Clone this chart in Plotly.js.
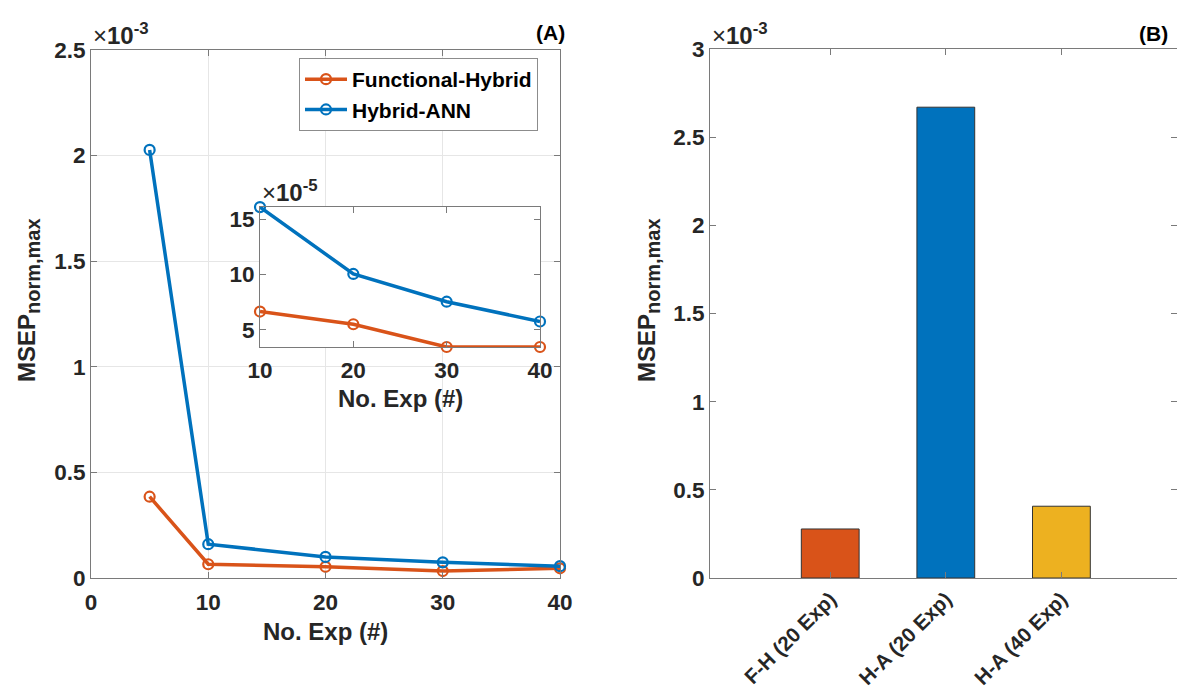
<!DOCTYPE html>
<html>
<head>
<meta charset="utf-8">
<script src="https://cdn.plot.ly/plotly-3.0.1.min.js"></script>
<style>html,body{margin:0;padding:0;background:#fff;}#chart{width:1177px;height:693px;}</style>
</head>
<body>
<div id="chart"></div>
<script>
// ---- data ----
const mainX = [5, 10, 20, 30, 40];
const fhMain = [0.385e-3, 0.065e-3, 0.053e-3, 0.033e-3, 0.046e-3];
const haMain = [2.027e-3, 0.160e-3, 0.100e-3, 0.074e-3, 0.056e-3];
const insetX = [10, 20, 30, 40];
const fhInset = [6.65e-5, 5.5e-5, 3.44e-5, 3.44e-5];
const haInset = [16.1e-5, 10.05e-5, 7.54e-5, 5.75e-5];
const barCats = ['F-H (20 Exp)', 'H-A (20 Exp)', 'H-A (40 Exp)'];
const barVals = [0.278e-3, 2.67e-3, 0.407e-3];
const mainXTicks = [0, 10, 20, 30, 40];
const mainYTickVals = [0, 0.5e-3, 1e-3, 1.5e-3, 2e-3, 2.5e-3];
const mainYTickText = ['0', '0.5', '1', '1.5', '2', '2.5'];
const barYTickVals = [0, 0.5e-3, 1e-3, 1.5e-3, 2e-3, 2.5e-3, 3e-3];
const barYTickText = ['0', '0.5', '1', '1.5', '2', '2.5', '3'];
const insetXTicks = [10, 20, 30, 40];
const insetYTickVals = [5e-5, 10e-5, 15e-5];
const insetYTickText = ['5', '10', '15'];

// ---- style ----
const W = 1177, H = 693;
const px = x => x / W;
const py = y => 1 - y / H;
const ORANGE = '#D95319', BLUE = '#0072BD', YELLOW = '#EDB120';
const FONT = 'Liberation Sans, Arial, Helvetica, sans-serif';
const TXT = '#262626';
const AX = '#7a7a7a';
const tickFont = {family: FONT, size: 22.5, color: TXT, weight: 700};

function lineTrace(x, y, color, name, xa, ya, show) {
  return {
    x: x, y: y, name: name, type: 'scatter', mode: 'lines+markers',
    xaxis: xa, yaxis: ya, showlegend: show, cliponaxis: false,
    line: {color: color, width: 3.5},
    marker: {symbol: 'circle-open', size: 10, color: color, line: {width: 2.2, color: color}}
  };
}

const traces = [
  lineTrace(mainX, fhMain, ORANGE, 'Functional-Hybrid', 'x', 'y', true),
  lineTrace(mainX, haMain, BLUE, 'Hybrid-ANN', 'x', 'y', true),
  {
    x: barCats, y: barVals, type: 'bar', xaxis: 'x2', yaxis: 'y2', showlegend: false,
    width: 0.5,
    marker: {color: [ORANGE, BLUE, YELLOW], line: {color: '#333333', width: 1}}
  },
  lineTrace(insetX, fhInset, ORANGE, 'Functional-Hybrid', 'x3', 'y3', false),
  lineTrace(insetX, haInset, BLUE, 'Hybrid-ANN', 'x3', 'y3', false)
];

const axBase = {
  showline: true, linecolor: AX, linewidth: 1, mirror: 'ticks',
  ticks: 'inside', ticklen: 6, tickcolor: AX, tickwidth: 1,
  zeroline: false, tickfont: tickFont, fixedrange: true
};

const titleFont = {family: FONT, size: 24, color: TXT};
const expFont = {family: FONT, size: 24, color: TXT};
const yTitle = '<b>MSEP<sub><span style="font-size:20px">norm,max</span></sub></b>';

const layout = {
  width: W, height: H,
  margin: {l: 0, r: 0, t: 0, b: 0},
  paper_bgcolor: '#ffffff', plot_bgcolor: '#ffffff',
  font: {family: FONT, color: TXT},
  showlegend: true,
  legend: {
    x: px(299), y: py(58), xanchor: 'left', yanchor: 'top',
    bgcolor: '#ffffff', bordercolor: '#8c8c8c', borderwidth: 1,
    font: {family: FONT, size: 21, color: '#000', weight: 700},
    tracegroupgap: 0, itemwidth: 42
  },
  xaxis: Object.assign({}, axBase, {
    domain: [px(91), px(560)], range: [0, 40], anchor: 'y',
    tickvals: mainXTicks, showgrid: true, gridcolor: '#e6e6e6', gridwidth: 1,
    ticklabelstandoff: 4
  }),
  yaxis: Object.assign({}, axBase, {
    domain: [py(578), py(50)], range: [0, 2.5e-3], anchor: 'x',
    tickvals: mainYTickVals, ticktext: mainYTickText,
    showgrid: true, gridcolor: '#e6e6e6', gridwidth: 1
  }),
  xaxis2: Object.assign({}, axBase, {
    domain: [px(710), 1], range: [-1.04, 3.0], anchor: 'y2', type: 'category',
    tickangle: -45, showgrid: false,
    tickfont: {family: FONT, size: 20.5, color: TXT, weight: 700}
  }),
  yaxis2: Object.assign({}, axBase, {
    domain: [py(578), py(49)], range: [0, 3e-3], anchor: 'x2',
    tickvals: barYTickVals, ticktext: barYTickText, showgrid: false
  }),
  xaxis3: Object.assign({}, axBase, {
    domain: [px(260), px(540)], range: [10, 40], anchor: 'y3',
    tickvals: insetXTicks, showgrid: false, ticklabelstandoff: 3
  }),
  yaxis3: Object.assign({}, axBase, {
    domain: [py(347), py(207)], range: [3.44e-5, 16.11e-5], anchor: 'x3',
    tickvals: insetYTickVals, ticktext: insetYTickText, showgrid: false
  }),
  annotations: [
    {text: '×<b>10<sup>-3</sup></b>', xref: 'paper', yref: 'paper', x: px(91), y: py(34),
     xanchor: 'left', yanchor: 'middle', showarrow: false, font: expFont},
    {text: '×<b>10<sup>-3</sup></b>', xref: 'paper', yref: 'paper', x: px(710), y: py(34),
     xanchor: 'left', yanchor: 'middle', showarrow: false, font: expFont},
    {text: '×<b>10<sup>-5</sup></b>', xref: 'paper', yref: 'paper', x: px(260), y: py(191),
     xanchor: 'left', yanchor: 'middle', showarrow: false, font: expFont},
    {text: '<b>(A)</b>', xref: 'paper', yref: 'paper', x: px(567), y: py(32),
     xanchor: 'right', yanchor: 'middle', showarrow: false, font: {family: FONT, size: 21, color: '#000'}},
    {text: '<b>(B)</b>', xref: 'paper', yref: 'paper', x: px(1170), y: py(33),
     xanchor: 'right', yanchor: 'middle', showarrow: false, font: {family: FONT, size: 21, color: '#000'}},
    {text: yTitle, xref: 'paper', yref: 'paper', x: px(28), y: py(300),
     xanchor: 'center', yanchor: 'middle', textangle: -90, showarrow: false, font: titleFont},
    {text: yTitle, xref: 'paper', yref: 'paper', x: px(648), y: py(300),
     xanchor: 'center', yanchor: 'middle', textangle: -90, showarrow: false, font: titleFont},
    {text: '<b>No. Exp (#)</b>', xref: 'paper', yref: 'paper', x: px(325), y: py(631),
     xanchor: 'center', yanchor: 'middle', showarrow: false, font: titleFont},
    {text: '<b>No. Exp (#)</b>', xref: 'paper', yref: 'paper', x: px(400), y: py(398),
     xanchor: 'center', yanchor: 'middle', showarrow: false, font: titleFont}
  ]
};

Plotly.newPlot('chart', traces, layout, {displayModeBar: false, staticPlot: true});
</script>
</body>
</html>
